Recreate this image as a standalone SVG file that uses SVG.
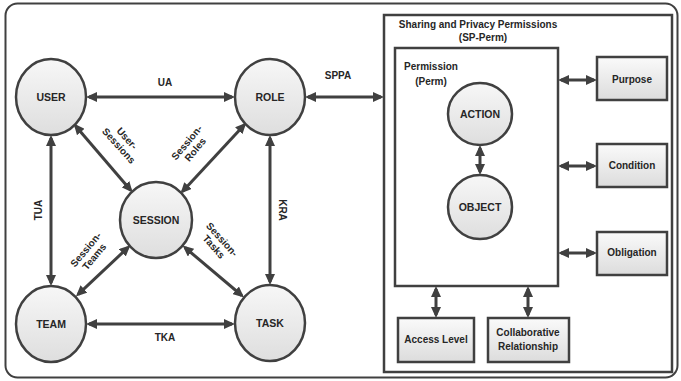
<svg xmlns="http://www.w3.org/2000/svg" width="681" height="381" viewBox="0 0 681 381">
<style>
text{font-family:"Liberation Sans",Arial,sans-serif;font-weight:bold;fill:#262626;text-anchor:middle}
.node{fill:url(#g);stroke:#404040;stroke-width:2.5}
.box{fill:url(#gb);stroke:#404040;stroke-width:2.5}
.frame{fill:#fff;stroke:#404040;stroke-width:2.5}
.lbl{font-size:10.5px}
.sm{font-size:10px}
.c line{stroke:#404040;stroke-width:3;marker-start:url(#ah);marker-end:url(#ah)}
.c line.one{marker-start:none}
</style>
<defs>
<linearGradient id="g" x1="0" y1="0" x2="0" y2="1"><stop offset="0" stop-color="#f7f7f7"/><stop offset="1" stop-color="#dedede"/></linearGradient>
<linearGradient id="gb" x1="0" y1="0" x2="0" y2="1"><stop offset="0" stop-color="#fafafa"/><stop offset="1" stop-color="#dcdcdc"/></linearGradient>
<marker id="ah" viewBox="0 0 11 10" refX="8" refY="5" markerWidth="11" markerHeight="10" markerUnits="userSpaceOnUse" orient="auto-start-reverse"><path d="M0,0 L11,5 L0,10 z" fill="#404040"/></marker>
</defs>
<rect x="5.5" y="3.5" width="672" height="374" rx="12" fill="#fff" stroke="#404040" stroke-width="2"/>
<g id="sp-perm"><rect class="frame" x="384" y="15" width="288" height="357"/>
<text class="sm" x="478" y="28">Sharing and Privacy Permissions</text>
<text class="sm" x="483" y="41">(SP-Perm)</text></g>
<g id="perm"><rect class="frame" x="395" y="48" width="163" height="238"/>
<text class="sm" x="431" y="70">Permission</text>
<text class="sm" x="431" y="85">(Perm)</text></g>
<g class="c" id="connectors">
<line x1="89" y1="97" x2="232" y2="97"/>
<line x1="89" y1="324" x2="232" y2="324"/>
<line x1="51" y1="138" x2="51" y2="283"/>
<line x1="270" y1="138" x2="270" y2="282"/>
<line x1="308" y1="97" x2="381" y2="97"/>
<line x1="75.6" y1="125.9" x2="130.7" y2="190.3"/>
<line x1="244.2" y1="124.9" x2="182.5" y2="191.4"/>
<line x1="128.2" y1="247.3" x2="78.1" y2="294.4"/>
<line x1="184.9" y1="247.5" x2="241.8" y2="295.5"/>
<line x1="480" y1="148" x2="480" y2="172"/>
<line x1="561" y1="80" x2="594" y2="80"/>
<line x1="561" y1="166" x2="594" y2="166"/>
<line x1="561" y1="253" x2="594" y2="253"/>
<line x1="436" y1="289" x2="436" y2="315"/>
<line x1="528" y1="289" x2="528" y2="315"/>
</g>
<g id="connector-labels">
<text class="sm" x="165" y="86">UA</text>
<text class="sm" x="165" y="341">TKA</text>
<text class="sm" x="338" y="79">SPPA</text>
<text class="sm" transform="translate(42,210) rotate(-90)">TUA</text>
<text class="sm" transform="translate(279,210) rotate(90)">KRA</text>
<g transform="translate(123,142) rotate(48)"><text class="sm" y="-2">User-</text><text class="sm" y="9">Sessions</text></g>
<g transform="translate(191,146) rotate(-50)"><text class="sm" y="-2">Session-</text><text class="sm" y="9">Roles</text></g>
<g transform="translate(90,253) rotate(-50)"><text class="sm" y="-2">Session-</text><text class="sm" y="9">Teams</text></g>
<g transform="translate(218,243) rotate(48)"><text class="sm" y="-2">Session-</text><text class="sm" y="9">Tasks</text></g>
</g>
<g id="user"><ellipse class="node" cx="51" cy="97" rx="35" ry="38"/><text class="lbl" x="51" y="101">USER</text></g>
<g id="role"><ellipse class="node" cx="270" cy="97" rx="35" ry="38"/><text class="lbl" x="270" y="101">ROLE</text></g>
<g id="session"><ellipse class="node" cx="156" cy="220" rx="36" ry="38"/><text class="lbl" x="156" y="224">SESSION</text></g>
<g id="team"><ellipse class="node" cx="51" cy="324" rx="35" ry="38"/><text class="lbl" x="51" y="328">TEAM</text></g>
<g id="task"><ellipse class="node" cx="270" cy="323" rx="35" ry="38"/><text class="lbl" x="270" y="327">TASK</text></g>
<g id="action"><ellipse class="node" cx="480" cy="114" rx="32" ry="31"/><text class="lbl" x="480" y="118">ACTION</text></g>
<g id="object"><ellipse class="node" cx="480" cy="207" rx="32" ry="32"/><text class="lbl" x="480" y="211">OBJECT</text></g>
<g id="purpose"><rect class="box" x="597" y="57" width="70" height="43"/><text class="sm" x="632" y="83">Purpose</text></g>
<g id="condition"><rect class="box" x="597" y="144" width="70" height="43"/><text class="sm" x="632" y="169">Condition</text></g>
<g id="obligation"><rect class="box" x="597" y="232" width="70" height="43"/><text class="sm" x="632" y="256">Obligation</text></g>
<g id="access-level"><rect class="box" x="398" y="318" width="76" height="44"/><text class="sm" x="436" y="343">Access Level</text></g>
<g id="collaborative-relationship"><rect class="box" x="488" y="318" width="81" height="44"/><text class="sm" x="528" y="336">Collaborative</text><text class="sm" x="528" y="350">Relationship</text></g>
</svg>
